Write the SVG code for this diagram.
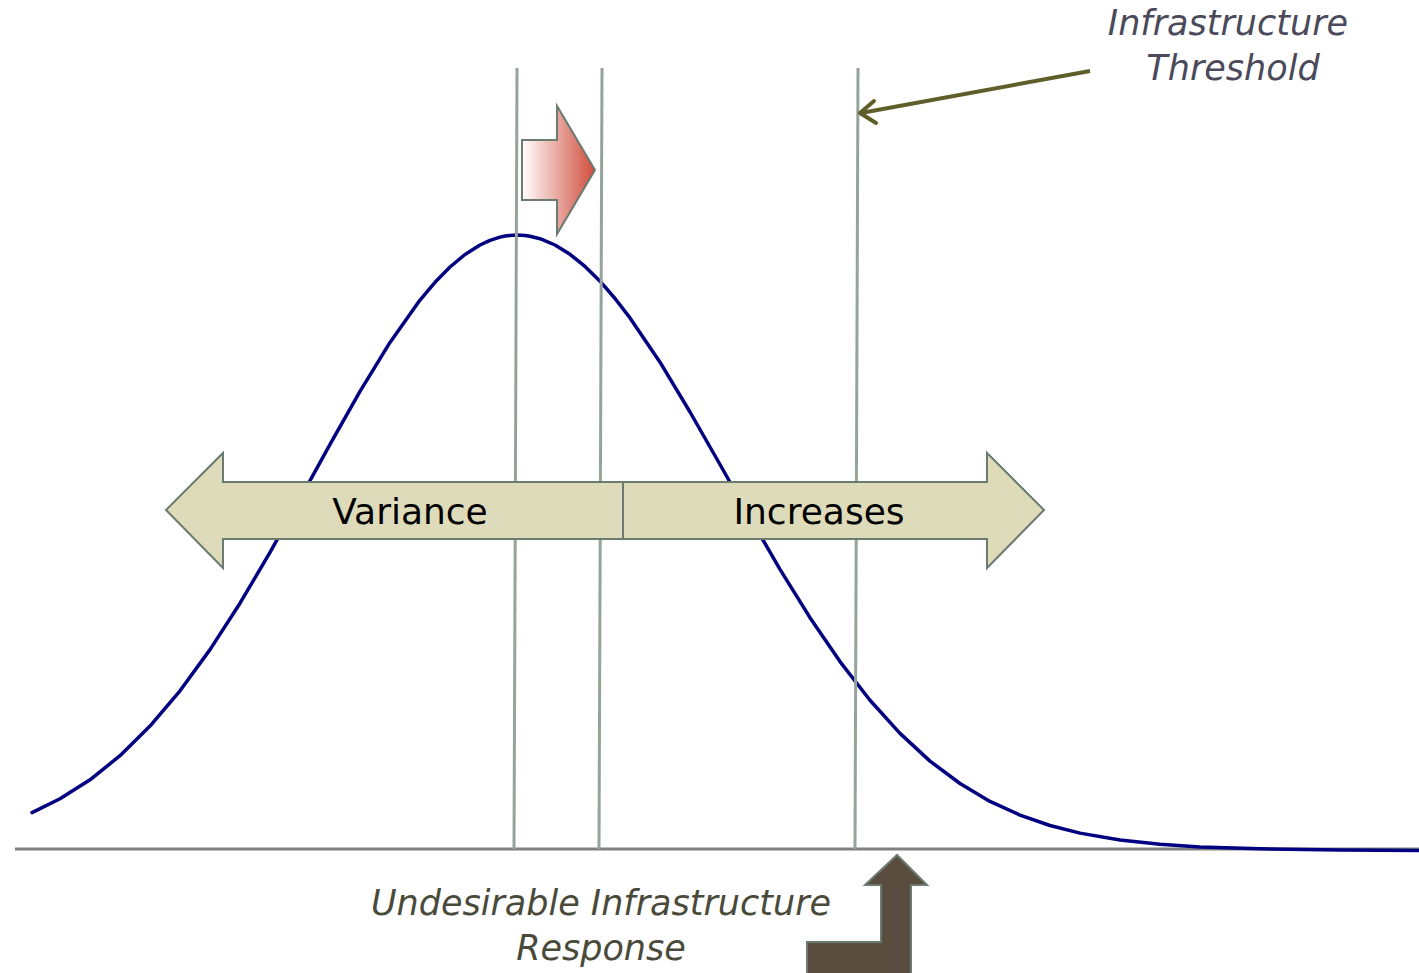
<svg xmlns="http://www.w3.org/2000/svg" width="1419" height="973" viewBox="0 0 1419 973">
<style>
.vline{stroke:#95a49a;stroke-width:3;fill:none}
.curve{stroke:#000080;stroke-width:3.5;fill:none;stroke-linecap:round;stroke-linejoin:round}
.band{fill:#dedbba;stroke:#6b7b70;stroke-width:2}
.lbl{font-family:"DejaVu Sans",sans-serif;font-size:36px;fill:#000;text-anchor:middle}
.note{font-family:"DejaVu Sans",sans-serif;font-style:italic;font-size:35px;text-anchor:middle}
</style>
<defs>
<linearGradient id="pink" x1="0" y1="0" x2="1" y2="0">
<stop offset="0" stop-color="#ffffff"/>
<stop offset="1" stop-color="#d04c3c"/>
</linearGradient>
</defs>
<rect width="1419" height="973" fill="#fff"/>
<g id="axis">
<line x1="15" y1="849" x2="1419" y2="849" stroke="#808080" stroke-width="3"/>
</g>
<g id="curve">
<polyline class="curve" points="32,812.6 60,798.8 90,779.8 120,755.7 150,726.1 180,690.8 210,649.6 240,603.2 270,552.4 300,498.8 330,444.3 360,391.3 390,342.4 420,300.1 435,282.3 450,267 465,254.5 480,245 490,240.3 500,237.1 505,236 510,235.4 517,235 525,235.4 530,236.2 540,238.7 555,245 570,254.3 585,266.4 600,281.2 615,298.5 630,317.9 660,362.2 690,412 720,464.5 750,517.7 780,569.3 810,617.7 840,661.6 870,700.3 900,733.4 930,761.1 960,783.5 990,801.4 1020,815.1 1050,825.5 1080,833.1 1120,840 1160,844.3 1200,846.9 1260,848.8 1340,850 1419,850.5"/>
</g>
<g id="verticals">
<line class="vline" x1="517" y1="68" x2="514" y2="849"/>
<line class="vline" x1="602" y1="68" x2="599" y2="849"/>
<line class="vline" x1="858" y1="68" x2="855" y2="849"/>
</g>
<g id="variance-arrow">
<polygon class="band" points="623,482 223,482 223,453 166,510 223,568 223,539 623,539"/>
<text class="lbl" x="410" y="524">Variance</text>
</g>
<g id="increases-arrow">
<polygon class="band" points="623,482 987,482 987,453 1044,510 987,568 987,539 623,539"/>
<text class="lbl" x="819" y="524">Increases</text>
</g>
<g id="shift-arrow">
<polygon points="522,140 557,140 557,106 595,170 557,234 557,200 522,200" fill="url(#pink)" stroke="#6b7b70" stroke-width="2"/>
</g>
<g id="response-arrow">
<polygon points="807,942 881,942 881,885 865,885 897,855 927,885 911,885 911,980 807,980" fill="#5a4d3f" stroke="#6b7b70" stroke-width="2"/>
</g>
<g id="connectors">
<line x1="1090" y1="71" x2="861" y2="113" stroke="#5e5e2a" stroke-width="4"/>
<polyline points="874,101 860,113 876,123" fill="none" stroke="#5e5e2a" stroke-width="4" stroke-linecap="round" stroke-linejoin="round"/>
</g>
<g id="threshold-label">
<text class="note" x="1228" y="35" fill="#4a4a5a" font-size="34">Infrastructure</text>
<text class="note" x="1233" y="80" fill="#4a4a5a" font-size="34">Threshold</text>
</g>
<g id="response-label">
<text class="note" x="601" y="915" fill="#4a4a3a">Undesirable Infrastructure</text>
<text class="note" x="601" y="960" fill="#4a4a3a">Response</text>
</g>
</svg>
